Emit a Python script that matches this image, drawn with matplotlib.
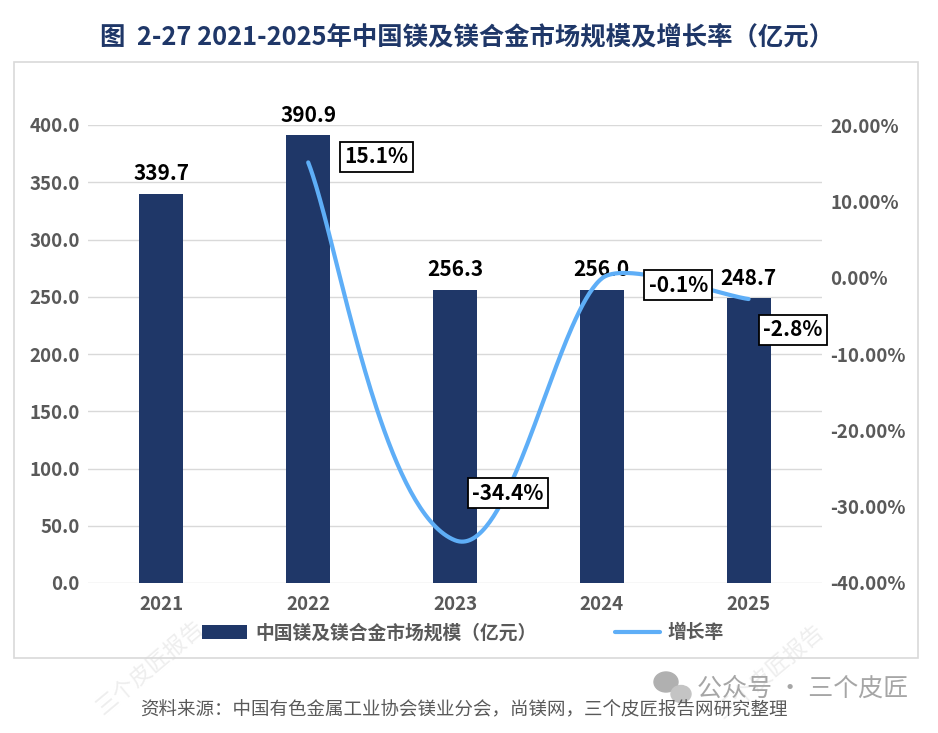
import numpy as np
import matplotlib
matplotlib.use("Agg")
from matplotlib import pyplot as plt
from matplotlib.patches import Rectangle, Ellipse
from matplotlib.ticker import FuncFormatter

plt.rcParams['font.family'] = ['Noto Sans CJK SC', 'DejaVu Sans']

years = ["2021", "2022", "2023", "2024", "2025"]
market_size = [339.7, 390.9, 256.3, 256.0, 248.7]
growth_years = ["2022", "2023", "2024", "2025"]
growth_rate = [15.1, -34.4, -0.1, -2.8]
growth_labels = ["15.1%", "-34.4%", "-0.1%", "-2.8%"]
left_ticks = [0, 50, 100, 150, 200, 250, 300, 350, 400]
right_ticks = [-40, -30, -20, -10, 0, 10, 20]

navy = "#1F3768"
blue = "#5EAEF7"
gray = "#595959"
grid = "#D9D9D9"

W, H = 938, 733
fig = plt.figure(figsize=(W / 100, H / 100), dpi=100, facecolor="white")


def fx(px):
    return px / W


def fy(py):
    return 1 - py / H


# outer frame
fig.patches.append(Rectangle((fx(14), fy(658)), fx(918) - fx(14), fy(62) - fy(658),
                             transform=fig.transFigure, fill=False, edgecolor=grid, lw=1.2))

ax = fig.add_axes([fx(88), fy(583), fx(822) - fx(88), fy(125) - fy(583)])
x = np.arange(len(years))
ax.bar(x, market_size, width=0.30, color=navy, zorder=2, label="中国镁及镁合金市场规模（亿元）")
ax.set_xlim(-0.5, len(years) - 0.5)
ax.set_ylim(0, 400)
ax.set_yticks(left_ticks)
ax.yaxis.set_major_formatter(FuncFormatter(lambda v, p: f"{v:.1f}"))
ax.set_xticks(x)
ax.set_xticklabels(years)
ax.grid(axis="y", color=grid, lw=1, zorder=0)
for s in ax.spines.values():
    s.set_visible(False)
ax.tick_params(length=0, labelsize=13.5, labelcolor=gray, pad=6)
ax.tick_params(axis="x", pad=9)
for t in ax.get_xticklabels() + ax.get_yticklabels():
    t.set_fontweight("bold")

for xi, v in zip(x, market_size):
    ax.annotate(f"{v:.1f}", (xi, v), xytext=(0, 7), textcoords="offset points",
                ha="center", va="bottom", fontsize=15, fontweight="bold", color="black")

ax2 = ax.twinx()
ax2.set_ylim(-40, 20)
ax2.set_yticks(right_ticks)
ax2.yaxis.set_major_formatter(FuncFormatter(lambda v, p: f"{v:.2f}%"))
for s in ax2.spines.values():
    s.set_visible(False)
ax2.tick_params(length=0, labelsize=13.5, labelcolor=gray, pad=6)
for t in ax2.get_yticklabels():
    t.set_fontweight("bold")

# smoothed line like Excel: bezier in screen space, tangent along neighbours,
# handle length a fraction of each segment
gx = np.array([years.index(y) for y in growth_years], dtype=float)
gy = np.array(growth_rate, dtype=float)
pts = ax2.transData.transform(np.column_stack([gx, gy]))
n = len(pts)
tang = []
for i in range(n):
    d = pts[min(i + 1, n - 1)] - pts[max(i - 1, 0)]
    tang.append(d / np.hypot(*d))
k = 0.2
t = np.linspace(0, 1, 80)[:, None]
curve = []
for i in range(n - 1):
    p1, p2 = pts[i], pts[i + 1]
    L = np.hypot(*(p2 - p1))
    c1 = p1 + tang[i] * L * k
    c2 = p2 - tang[i + 1] * L * k
    b = (1 - t) ** 3 * p1 + 3 * (1 - t) ** 2 * t * c1 + 3 * (1 - t) * t ** 2 * c2 + t ** 3 * p2
    curve.append(b)
curve = ax2.transData.inverted().transform(np.vstack(curve))
ax2.plot(curve[:, 0], curve[:, 1], color=blue, lw=3, solid_capstyle="round", zorder=3, label="增长率")

offsets = [(49, 4), (38, 34), (55, -5), (32, -22)]
for xi, v, lab, off in zip(gx, gy, growth_labels, offsets):
    ax2.annotate(lab, (xi, v), xytext=off, textcoords="offset points", ha="center", va="center",
                 fontsize=15, fontweight="bold", color="black", zorder=5,
                 bbox=dict(boxstyle="square,pad=0.22", fc="white", ec="black", lw=1.3))

h1, l1 = ax.get_legend_handles_labels()
h2, l2 = ax2.get_legend_handles_labels()
leg = fig.legend(h1 + h2, l1 + l2, loc="center", bbox_to_anchor=(fx(463), fy(633)), ncol=2,
                 frameon=False, columnspacing=4.2, handlelength=2.4, handletextpad=0.4,
                 prop=dict(size=13.5, weight="bold"))
for txt in leg.get_texts():
    txt.set_color(gray)

fig.text(fx(467), fy(37), "图  2-27 2021-2025年中国镁及镁合金市场规模及增长率（亿元）",
         ha="center", va="center", fontsize=18.3, fontweight="bold", color=navy)

fig.text(fx(464), fy(710), "资料来源：中国有色金属工业协会镁业分会，尚镁网，三个皮匠报告网研究整理",
         ha="center", va="center", fontsize=13.3, color=gray)

# watermarks
fig.text(fx(697), fy(689), "公众号 · 三个皮匠", ha="left", va="center",
         fontsize=18, color="#A6A6A6")
fig.patches.append(Ellipse((fx(666), fy(682)), fx(24), fy(0) - fy(20), transform=fig.transFigure,
                           color="#B0B0B0"))
fig.patches.append(Ellipse((fx(681), fy(694)), fx(20), fy(0) - fy(17), transform=fig.transFigure,
                           color="#C4C4C4"))
for cx, cy in [(150, 668), (770, 672)]:
    fig.text(fx(cx), fy(cy), "三个皮匠报告", ha="center", va="center", rotation=40,
             fontsize=16, color="#EEEEEE", zorder=0)

fig.savefig("out.png", dpi=100, facecolor="white")
